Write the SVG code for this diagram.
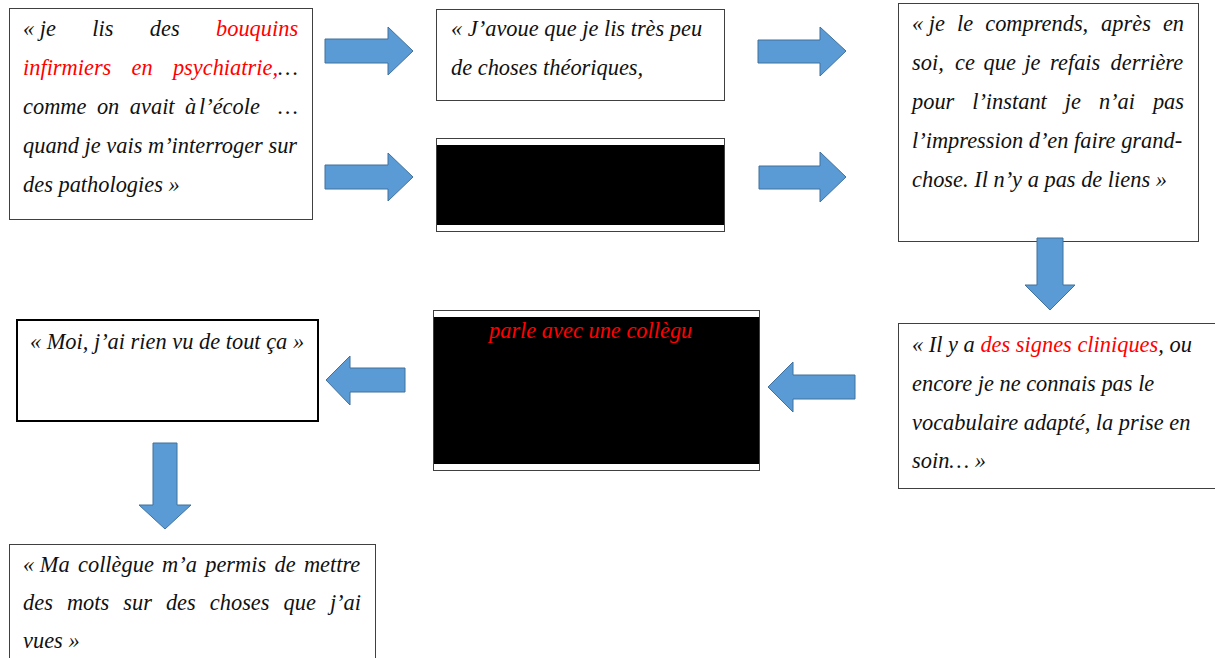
<svg xmlns="http://www.w3.org/2000/svg" width="1215" height="658" viewBox="0 0 1215 658">
<style>
.box{fill:#fff;stroke:#404040;stroke-width:1}
.t{font-family:"Liberation Serif","Times New Roman",serif;font-style:italic;font-size:22.4px;fill:#111}
.r{fill:#f00}
.arr{fill:#5B9BD5;stroke:#41719C;stroke-width:1}
</style>
<defs>
<clipPath id="clip6"><rect x="433" y="310" width="259" height="40"/></clipPath>
</defs>
<rect width="1215" height="658" fill="#fff"/>

<g id="node1">
<rect class="box" x="9.5" y="8.5" width="303" height="211"/>
<text class="t" y="36"><tspan x="23">« je</tspan><tspan x="92.3">lis</tspan><tspan x="149.8">des</tspan><tspan x="216" class="r">bouquins</tspan></text>
<text class="t" y="75"><tspan x="23" class="r">infirmiers</tspan><tspan x="131.6" class="r">en</tspan><tspan x="172.9" class="r">psychiatrie,</tspan><tspan>…</tspan></text>
<text class="t" y="114"><tspan x="23">comme</tspan><tspan x="96.9">on</tspan><tspan x="129.8">avait</tspan><tspan x="185">à</tspan><tspan x="199">l’école</tspan><tspan x="278.1">…</tspan></text>
<text class="t" x="23" y="153">quand je vais m’interroger sur</text>
<text class="t" x="23" y="192">des pathologies »</text>
</g>

<g id="node2">
<rect class="box" x="436.5" y="9.5" width="288" height="91"/>
<text class="t" x="451" y="36">« J’avoue que je lis très peu</text>
<text class="t" x="451" y="75">de choses théoriques,</text>
</g>

<g id="node3">
<rect class="box" x="436.5" y="138.5" width="288" height="93"/>
<rect x="437" y="145" width="287" height="80" fill="#000"/>
</g>

<g id="node4">
<rect class="box" x="898.5" y="3.5" width="300" height="238"/>
<text class="t" y="31"><tspan x="912">« je</tspan><tspan x="957">le</tspan><tspan x="985.2">comprends,</tspan><tspan x="1101.1">après</tspan><tspan x="1162.9">en</tspan></text>
<text class="t" y="70"><tspan x="912">soi,</tspan><tspan x="955">ce</tspan><tspan x="983.5">que</tspan><tspan x="1024.4">je</tspan><tspan x="1050.1">refais</tspan><tspan x="1110.6">derrière</tspan></text>
<text class="t" y="109"><tspan x="912">pour</tspan><tspan x="972.2">l’instant</tspan><tspan x="1064.8">je</tspan><tspan x="1098.9">n’ai</tspan><tspan x="1152.9">pas</tspan></text>
<text class="t" x="912" y="148">l’impression d’en faire grand-</text>
<text class="t" x="912" y="187">chose. Il n’y a pas de liens »</text>
</g>

<g id="node5">
<rect class="box" x="898.5" y="323.5" width="320" height="165"/>
<text class="t" x="912" y="352">« Il y a <tspan class="r">des signes cliniques</tspan>, ou</text>
<text class="t" x="912" y="391">encore je ne connais pas le</text>
<text class="t" x="912" y="430">vocabulaire adapté, la prise en</text>
<text class="t" x="912" y="468">soin… »</text>
</g>

<g id="node6">
<rect class="box" x="433.5" y="310.5" width="326" height="160"/>
<rect x="434" y="317" width="325" height="147" fill="#000"/>
<text class="t r" x="489" y="338" clip-path="url(#clip6)">parle avec une collègue</text>
</g>

<g id="node7">
<rect x="17" y="320" width="301" height="101" fill="#fff" stroke="#000" stroke-width="2"/>
<text class="t" x="167" y="349" text-anchor="middle">« Moi, j’ai rien vu de tout ça »</text>
</g>

<g id="node8">
<rect class="box" x="9.5" y="544.5" width="366" height="120"/>
<text class="t" y="572"><tspan x="23">« Ma</tspan><tspan x="78">collègue</tspan><tspan x="162.1">m’a</tspan><tspan x="205.2">permis</tspan><tspan x="274.5">de</tspan><tspan x="303.9">mettre</tspan></text>
<text class="t" y="610"><tspan x="23">des</tspan><tspan x="66.9">mots</tspan><tspan x="123.3">sur</tspan><tspan x="165.9">des</tspan><tspan x="209.8">choses</tspan><tspan x="283.5">que</tspan><tspan x="329.9">j’ai</tspan></text>
<text class="t" x="23" y="648">vues »</text>
</g>

<g id="connectors">
<polygon class="arr" points="325,39 388,39 388,27 413,51 388,75 388,63 325,63"/>
<polygon class="arr" points="325,165 388,165 388,153 413,177 388,201 388,189 325,189"/>
<polygon class="arr" points="758,40 820,40 820,27 846,51 820,76 820,63 758,63"/>
<polygon class="arr" points="759,166 820,166 820,152 846,177 820,202 820,189 759,189"/>
<polygon class="arr" points="1037,238 1063,238 1063,285 1075,285 1050,310 1025,285 1037,285"/>
<polygon class="arr" points="855,375 793,375 793,362 768,387 793,412 793,399 855,399"/>
<polygon class="arr" points="405,368 350,368 350,356 326,380 350,405 350,392 405,392"/>
<polygon class="arr" points="153,443 177,443 177,505 191,505 165,529 139,505 153,505"/>
</g>
</svg>
